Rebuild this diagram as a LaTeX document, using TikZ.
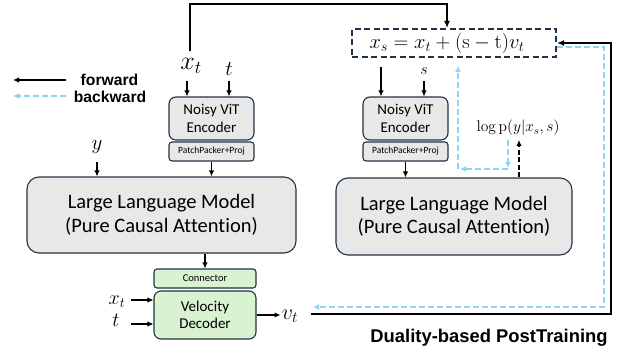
\RequirePackage{fix-cm}
\documentclass[tikz,border=0pt]{standalone}
\usepackage[no-math]{fontspec}
\setmainfont{Carlito}[Ligatures=NoCommon]
\newfontfamily\boldsans{Liberation Sans}
\usetikzlibrary{arrows.meta}
\definecolor{bordc}{HTML}{1F3344}
\definecolor{grayf}{HTML}{E8E8E8}
\definecolor{greenf}{HTML}{D9F2D0}
\definecolor{blued}{HTML}{8DD4F4}
\begin{document}
\begin{tikzpicture}[x=1pt,y=-1pt,
  box/.style={draw=bordc,line width=1.1pt,rounded corners=7pt,inner sep=0pt,align=center},
  graybox/.style={box,fill=grayf},
  greenbox/.style={box,fill=greenf},
  arr/.style={line width=1.4pt,-{Latex[length=6pt,width=5.5pt]}},
  bwd/.style={draw=blued,line width=1.8pt,dash pattern=on 6pt off 3pt,-{Latex[length=6pt,width=6pt]}},
  fbk/.style={line width=2pt,-{Latex[length=7pt,width=6pt]}},
  lbl/.style={inner sep=1pt}
]
\useasboundingbox (0,0) rectangle (621,353);
% legend
\coordinate (fa) at (66,80);
\coordinate (fb) at (13,80);
\coordinate (ba) at (66,96);
\coordinate (bb) at (13,96);
\draw[arr] (fa) -- (fb);
\draw[bwd] (ba) -- (bb);
\node[font=\boldsans\bfseries\fontsize{15.7}{16}\selectfont] (fwd) at (109.5,80) {forward};
\node[font=\boldsans\bfseries\fontsize{15.7}{16}\selectfont] (bwdt) at (110,97) {backward};

% left column
\node[graybox, minimum width=85pt, minimum height=43pt, font=\fontsize{15}{18}\selectfont] (encL) at (211.5,118.5) {Noisy ViT\\Encoder};
\node[graybox, rounded corners=3pt, minimum width=85pt, minimum height=19pt, font=\fontsize{9.5}{11}\selectfont] (ppL) at (211.5,151.5) {PatchPacker+Proj};
\node[graybox, rounded corners=12pt, minimum width=269pt, minimum height=76pt, font=\fontsize{20.5}{23.5}\selectfont] (llmL) at (161.5,215) {Large Language Model\\(Pure Causal Attention)};
\node[greenbox, rounded corners=3pt, minimum width=102pt, minimum height=19pt, font=\fontsize{10.5}{12}\selectfont] (conn) at (205,278.5) {Connector};
\node[greenbox, minimum width=102pt, minimum height=48pt, font=\fontsize{15}{17.5}\selectfont] (vdec) at (205,315) {Velocity\\Decoder};

\node[lbl, font=\fontsize{26}{26}\selectfont] (xtT) at (191,66) {$x_t$};
\node[lbl, font=\fontsize{21}{21}\selectfont] (tT) at (229,69) {$t$};
\node[lbl, font=\fontsize{21}{21}\selectfont] (yL) at (97,147) {$y$};
\node[lbl, font=\fontsize{20}{20}\selectfont] (xtB) at (117,302) {$x_t$};
\node[lbl, font=\fontsize{20}{20}\selectfont] (tB) at (116,320) {$t$};
\node[lbl, font=\fontsize{22}{22}\selectfont] (vt) at (290,316) {$v_t$};

% right column
\node[draw=bordc, line width=2pt, dash pattern=on 6pt off 3.5pt, minimum width=204pt, minimum height=28pt, inner sep=0pt, font=\fontsize{20.5}{20.5}\selectfont] (xs) at (454,43) {$x_s = x_t + (\mathrm{s}-\mathrm{t})v_t$\hspace*{14pt}};
\node[graybox, minimum width=85pt, minimum height=43pt, font=\fontsize{15}{18}\selectfont] (encR) at (405.5,118.5) {Noisy ViT\\Encoder};
\node[graybox, rounded corners=3pt, minimum width=85pt, minimum height=19pt, font=\fontsize{9.5}{11}\selectfont] (ppR) at (405.5,151.5) {PatchPacker+Proj};
\node[graybox, rounded corners=12pt, minimum width=236pt, minimum height=77pt, font=\fontsize{20.5}{23.5}\selectfont] (llmR) at (454,216.5) {Large Language Model\\(Pure Causal Attention)};
\node[lbl, font=\fontsize{16}{16}\selectfont] (sR) at (424,71) {$s$};
\node[lbl, font=\fontsize{15.5}{15.5}\selectfont] (logp) at (518,128) {$\log \mathrm{p}(y|x_s,s)$};

\node[font=\boldsans\bfseries\fontsize{18.4}{20}\selectfont] (dual) at (489,338) {Duality-based PostTraining};

% forward arrows left
\coordinate (topr) at (447,4);
\draw[fbk, line width=1.8pt] ([xshift=-1pt,yshift=6pt]xtT.north) |- (topr) -- (topr |- xs.north);
\draw[arr] ([xshift=-24.5pt,yshift=15pt]encL.north) -- ([xshift=-24.5pt]encL.north);
\draw[arr] ([xshift=17.5pt,yshift=15pt]encL.north) -- ([xshift=17.5pt]encL.north);
\draw[arr] (ppL.south) -- (ppL.south |- llmL.north);
\draw[arr] ([yshift=14pt]llmL.north -| yL) -- (llmL.north -| yL);
\draw[arr] (conn.north |- llmL.south) -- (conn.north);
\draw[arr] ([xshift=-22pt,yshift=15pt]vdec.west) -- ([yshift=15pt]vdec.west);
\draw[arr] ([xshift=-22pt,yshift=-9pt]vdec.west) -- ([yshift=-9pt]vdec.west);
\draw[arr] (vdec.east) -- ([xshift=24pt]vdec.east);

% forward arrows right
\draw[arr] ([xshift=-24.5pt,yshift=29pt]encR.north) -- ([xshift=-24.5pt]encR.north);
\draw[arr] ([xshift=18.5pt,yshift=15pt]encR.north) -- ([xshift=18.5pt]encR.north);
\draw[arr] (ppR.south) -- (ppR.south |- llmR.north);
\draw[arr, dash pattern=on 5pt off 2.5pt] ([xshift=1pt]logp.south |- llmR.north) -- ([xshift=1pt,yshift=-3pt]logp.south);

% backward inside right
\coordinate (bc) at (458,169);
\draw[bwd] ([xshift=-10pt,yshift=-3pt]logp.south) -- ([xshift=-10pt,yshift=1pt]logp.south |- bc);
\draw[bwd] ([xshift=-10pt]logp.south |- bc) -- ([xshift=2pt]bc);
\draw[bwd] (bc) -- ([yshift=-8pt]bc |- xs.south);

% feedback loop
\coordinate (fbS) at (311,314);
\coordinate (br) at (611,314);
\draw[fbk] (fbS) -- (br) |- (xs.east);
\coordinate (bR) at (604,307);
\coordinate (bE) at (313,307);
\draw[bwd] ([yshift=-4pt]xs.east) -| (bR) -- (bE);
\end{tikzpicture}
\end{document}
